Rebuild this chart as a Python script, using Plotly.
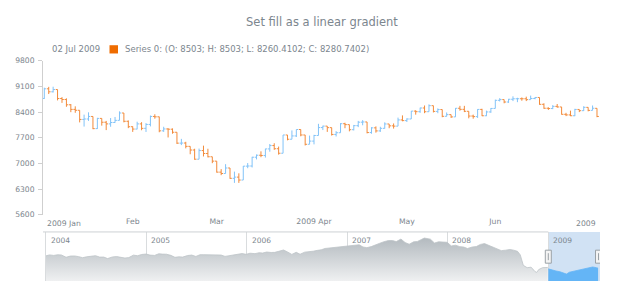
import plotly.graph_objects as go

# ---------------- data ----------------
TRADING_DAYS = [
    "2 5 6 7 8 9 12 13 14 15 16 20 21 22 23 26 27 28 29 30",
    "2 3 4 5 6 9 10 11 12 13 17 18 19 20 23 24 25 26 27",
    "2 3 4 5 6 9 10 11 12 13 16 17 18 19 20 23 24 25 26 27 30 31",
    "1 2 3 6 7 8 9 13 14 15 16 17 20 21 22 23 24 27 28 29 30",
    "1 4 5 6 7 8 11 12 13 14 15 18 19 20 21 22 26 27 28 29",
    "1 2 3 4 5 8 9 10 11 12 15 16 17 18 19 22 23 24 25 26 29 30",
    "1 2",
]
DATES = [f"2009-{m:02d}-{int(d):02d}" for m, s in enumerate(TRADING_DAYS, start=1) for d in s.split()]
DATE_LABEL = "02 Jul 2009"

OPEN = [
    8772, 9035, 8953, 9015, 8770, 8742, 8599, 8474, 8449, 8200, 8212, 8281, 7949, 8228, 8123, 8078, 8116, 8175, 8375, 8149,
    8001, 7937, 8078, 7957, 8063, 8281, 8271, 7889, 7940, 7933, 7850, 7553, 7556, 7466, 7366, 7115, 7351, 7271, 7182,
    7063, 6763, 6726, 6876, 6594, 6627, 6547, 6926, 6930, 7170, 7224, 7217, 7396, 7487, 7401, 7278, 7776, 7660, 7750, 7925, 7776, 7522,
    7609, 7762, 7978, 8018, 7976, 7790, 7837, 8083, 8058, 7920, 8030, 8125, 8131, 7842, 7970, 7887, 7957, 8076, 8025, 8017, 8186,
    8168, 8212, 8427, 8411, 8512, 8410, 8575, 8419, 8469, 8285, 8331, 8269, 8504, 8475, 8422, 8292, 8277, 8473, 8300, 8404,
    8500, 8721, 8741, 8675, 8750, 8763, 8764, 8763, 8739, 8771, 8799, 8612, 8505, 8497, 8556, 8540, 8339, 8323, 8300, 8472, 8438, 8529,
    8447, 8503,
]
HIGH = [
    9065, 9088, 9092, 9015, 8808, 8775, 8618, 8557, 8449, 8331, 8394, 8281, 8243, 8228, 8160, 8238, 8267, 8420, 8375, 8172,
    8010, 8138, 8125, 8099, 8307, 8340, 8275, 8000, 7960, 7955, 7850, 7670, 7590, 7466, 7400, 7405, 7485, 7400, 7182,
    7063, 6845, 6980, 6876, 6777, 6730, 6930, 7010, 7180, 7245, 7330, 7400, 7530, 7550, 7460, 7776, 7776, 7900, 7925, 7925, 7776, 7760,
    7780, 8080, 8030, 8018, 7976, 7880, 8100, 8110, 8058, 8050, 8160, 8180, 8131, 7990, 8010, 8000, 8120, 8076, 8090, 8250, 8310,
    8230, 8430, 8450, 8520, 8580, 8610, 8575, 8500, 8469, 8390, 8331, 8510, 8570, 8570, 8422, 8330, 8480, 8490, 8440, 8510,
    8740, 8780, 8741, 8760, 8830, 8790, 8800, 8820, 8850, 8810, 8799, 8640, 8530, 8590, 8620, 8540, 8380, 8440, 8490, 8472, 8560, 8530,
    8580, 8503,
]
LOW = [
    8760, 8892, 8934, 8719, 8651, 8544, 8398, 8381, 8119, 8005, 8160, 7934, 7940, 8030, 7909, 8000, 8110, 8175, 8120, 7962,
    7860, 7932, 7905, 7858, 8010, 8220, 7850, 7860, 7708, 7810, 7532, 7500, 7411, 7250, 7100, 7115, 7190, 7165, 7007,
    6750, 6680, 6726, 6580, 6470, 6470, 6547, 6870, 6890, 7110, 7170, 7160, 7320, 7370, 7240, 7278, 7630, 7660, 7720, 7740, 7490, 7522,
    7520, 7762, 7910, 7860, 7760, 7735, 7837, 7960, 7875, 7900, 7990, 8040, 7820, 7810, 7840, 7860, 7950, 7960, 7950, 8017, 8150,
    8130, 8212, 8330, 8380, 8370, 8410, 8390, 8370, 8260, 8280, 8240, 8269, 8440, 8400, 8230, 8220, 8240, 8290, 8290, 8380,
    8500, 8690, 8640, 8650, 8700, 8670, 8710, 8700, 8740, 8750, 8600, 8490, 8460, 8480, 8520, 8330, 8290, 8290, 8290, 8400, 8430, 8420,
    8447, 8260.4102,
]
CLOSE = [
    9035, 8953, 9015, 8770, 8742, 8599, 8474, 8449, 8200, 8212, 8281, 7949, 8228, 8123, 8078, 8116, 8175, 8375, 8149, 8001,
    7937, 8078, 7957, 8063, 8281, 8271, 7889, 7940, 7933, 7850, 7553, 7556, 7466, 7366, 7115, 7351, 7271, 7182, 7063,
    6763, 6726, 6876, 6594, 6627, 6547, 6926, 6930, 7170, 7224, 7217, 7396, 7487, 7401, 7278, 7776, 7660, 7750, 7925, 7776, 7522, 7609,
    7762, 7978, 8018, 7976, 7790, 7837, 8083, 8058, 7920, 8030, 8125, 8131, 7842, 7970, 7887, 7957, 8076, 8025, 8017, 8186, 8168,
    8212, 8427, 8411, 8512, 8410, 8575, 8419, 8469, 8285, 8331, 8269, 8504, 8475, 8422, 8292, 8277, 8473, 8300, 8404, 8500,
    8721, 8741, 8675, 8750, 8763, 8764, 8763, 8739, 8771, 8799, 8612, 8505, 8497, 8556, 8540, 8339, 8323, 8300, 8472, 8438, 8529, 8447,
    8504, 8280.7402,
]

MONTH_TICK_LABELS = ["2009 Jan", "Feb", "Mar", "2009 Apr", "May", "Jun", "2009"]
Y_TICKS = [5600, 6300, 7000, 7700, 8400, 9100, 9800]

# scroller history (2004 - 2008)
HIST_DATES = [
    "2004-01-02", "2004-01-15", "2004-01-30", "2004-02-13", "2004-02-27", "2004-03-15", "2004-03-31", "2004-04-15", "2004-04-30",
    "2004-05-14", "2004-05-28", "2004-06-15", "2004-06-30", "2004-07-15", "2004-07-30", "2004-08-13", "2004-08-31", "2004-09-15",
    "2004-09-30", "2004-10-15", "2004-10-29", "2004-11-15", "2004-11-30", "2004-12-15", "2004-12-31",
    "2005-01-14", "2005-01-31", "2005-02-15", "2005-02-28", "2005-03-15", "2005-03-31", "2005-04-15", "2005-04-29", "2005-05-13",
    "2005-05-31", "2005-06-15", "2005-06-30", "2005-07-15", "2005-07-29", "2005-08-15", "2005-08-31", "2005-09-15", "2005-09-30",
    "2005-10-14", "2005-10-31", "2005-11-15", "2005-11-30", "2005-12-15", "2005-12-30",
    "2006-01-13", "2006-01-31", "2006-02-15", "2006-02-28", "2006-03-15", "2006-03-31", "2006-04-13", "2006-04-28", "2006-05-15",
    "2006-05-31", "2006-06-14", "2006-06-30", "2006-07-14", "2006-07-31", "2006-08-15", "2006-08-31", "2006-09-15", "2006-09-29",
    "2006-10-13", "2006-10-31", "2006-11-15", "2006-11-30", "2006-12-15", "2006-12-29",
    "2007-01-12", "2007-01-31", "2007-02-14", "2007-02-28", "2007-03-14", "2007-03-30", "2007-04-13", "2007-04-30", "2007-05-15",
    "2007-05-31", "2007-06-15", "2007-06-29", "2007-07-16", "2007-07-31", "2007-08-15", "2007-08-31", "2007-09-14", "2007-09-28",
    "2007-10-09", "2007-10-31", "2007-11-15", "2007-11-30", "2007-12-14", "2007-12-31",
    "2008-01-15", "2008-01-31", "2008-02-15", "2008-02-29", "2008-03-14", "2008-03-31", "2008-04-15", "2008-04-30", "2008-05-15",
    "2008-05-30", "2008-06-13", "2008-06-30", "2008-07-15", "2008-07-31", "2008-08-15", "2008-08-29", "2008-09-12", "2008-09-22",
    "2008-10-03", "2008-10-17", "2008-10-31", "2008-11-07", "2008-11-14", "2008-11-21", "2008-11-28", "2008-12-12", "2008-12-31",
]
HIST_VALUES = [
    10409, 10600, 10488, 10628, 10584, 10102, 10358, 10378, 10226,
    10012, 10188, 10380, 10435, 10140, 10140, 9825, 10174, 10245,
    10080, 9933, 10027, 10550, 10428, 10690, 10783,
    10558, 10490, 10837, 10766, 10745, 10504, 10088, 10193, 10140,
    10467, 10566, 10275, 10640, 10641, 10634, 10482, 10558, 10569,
    10287, 10440, 10686, 10806, 10881, 10718,
    10959, 10865, 11058, 10993, 11209, 11109, 11137, 11367, 11642,
    11168, 10706, 11150, 10739, 11186, 11230, 11381, 11560, 11679,
    11960, 12081, 12251, 12221, 12445, 12463,
    12556, 12622, 12741, 12269, 12133, 12354, 12612, 13063, 13383,
    13628, 13639, 13409, 13950, 13212, 12861, 13358, 13442, 13896,
    14164, 13930, 13110, 13372, 13339, 13265,
    12501, 12650, 12348, 12266, 11951, 12263, 12362, 12820, 12992,
    12638, 12308, 11750, 11500, 11600, 11750, 11600, 11350, 10600,
    8400, 7900, 8000, 7600, 7100, 6900, 7500, 7900, 7950,
]
# navigator values for the selected range (2009)
SCROLL_DATES = [
    "2009-01-02", "2009-01-16", "2009-01-30", "2009-02-13", "2009-02-27", "2009-03-09", "2009-03-20", "2009-04-03",
    "2009-04-17", "2009-05-01", "2009-05-15", "2009-05-29", "2009-06-12", "2009-06-26", "2009-07-02",
]
SCROLL_VALUES = [7650, 7350, 7200, 7050, 6750, 6550, 6950, 7150, 7400, 7550, 7700, 7850, 8050, 7900, 7800]
YEAR_LABELS = ["2004", "2005", "2006", "2007", "2008", "2009"]

# ---------------- styling ----------------
FONT = "DejaVu Sans"
TXT = "#7c868e"
RISE = "#64b5f6"
FALL = "#ef6c00"
RISE_BAR = "#82c3f8"
FALL_BAR = "#f28a3a"
W, H = 620, 300
ML, MR = 43, 20
PW = W - ML - MR


def py(pix):
    """convert a pixel row (from top) to paper y"""
    return (H - pix) / H


def px(pix):
    return (pix - ML) / PW


idx = list(range(len(DATES)))
month_starts = [i for i, d in enumerate(DATES) if i == 0 or d[5:7] != DATES[i - 1][5:7]]

fig = go.Figure()

fig.add_trace(go.Ohlc(
    x=idx, open=OPEN, high=HIGH, low=LOW, close=CLOSE,
    xaxis="x", yaxis="y",
    increasing=dict(line=dict(color=RISE_BAR, width=1)),
    decreasing=dict(line=dict(color=FALL_BAR, width=1)),
    tickwidth=0.42, showlegend=False, hoverinfo="skip",
))

fig.add_trace(go.Scatter(
    x=HIST_DATES, y=HIST_VALUES, xaxis="x2", yaxis="y2", mode="lines",
    line=dict(color="#bec4c8", width=0.8),
    fill="tozeroy",
    fillgradient=dict(type="vertical", colorscale=[[0, "#f1f2f3"], [1, "#b3babf"]], start=5100, stop=14200),
    showlegend=False, hoverinfo="skip",
))
fig.add_trace(go.Scatter(
    x=SCROLL_DATES, y=SCROLL_VALUES, xaxis="x2", yaxis="y2", mode="lines",
    line=dict(color=RISE, width=0.8), fill="tozeroy", fillcolor=RISE,
    showlegend=False, hoverinfo="skip",
))

shapes = [
    # selection background in the scroller
    dict(type="rect", xref="x2", yref="y2 domain", x0=DATES[0], x1="2009-07-09", y0=0, y1=1,
         fillcolor="#d1e2f4", line=dict(width=0), layer="below"),
    # scroller top border (outside the selection)
    dict(type="line", xref="x2", yref="y2 domain", x0="2003-12-22", x1=DATES[0], y0=1, y1=1,
         line=dict(color="#cdd1d4", width=1)),
    # legend colour box
    dict(type="rect", xref="paper", yref="paper", x0=px(109.5), x1=px(118), y0=py(51), y1=py(42.5),
         fillcolor=FALL, line=dict(width=0)),
]
for d, off in ((DATES[0], 0), ("2009-07-09", -1.5)):
    shapes.append(dict(type="rect", xref="x2", yref="y2 domain", xsizemode="pixel", xanchor=d,
                       x0=off - 3, x1=off + 3, ysizemode="pixel", yanchor=0.495, y0=-6.5, y1=6.5,
                       fillcolor="#f4f4f4", line=dict(color="#9ba2a7", width=1)))
    shapes.append(dict(type="line", xref="x2", yref="y2 domain", xsizemode="pixel", xanchor=d,
                       x0=off, x1=off, ysizemode="pixel", yanchor=0.495, y0=-3.5, y1=3.5,
                       line=dict(color="#9ba2a7", width=1)))

annotations = [
    dict(text="Set fill as a linear gradient", xref="paper", yref="paper", x=px(321.5), y=py(19),
         xanchor="center", yanchor="middle", showarrow=False, font=dict(family=FONT, size=11.5, color=TXT)),
    dict(text=DATE_LABEL, xref="paper", yref="paper", x=px(50), y=py(46.5),
         xanchor="left", yanchor="middle", showarrow=False, font=dict(family=FONT, size=8.5, color=TXT)),
    dict(text=f"Series 0: (O: {OPEN[-1]}; H: {HIGH[-1]}; L: {LOW[-1]}; C: {CLOSE[-1]})",
         xref="paper", yref="paper", x=px(123), y=py(46.5),
         xanchor="left", yanchor="middle", showarrow=False, font=dict(family=FONT, size=8.5, color=TXT)),
    dict(text=MONTH_TICK_LABELS[0], xref="x", yref="paper", x=idx[0], y=py(226), xshift=1,
         xanchor="left", yanchor="middle", showarrow=False, font=dict(family=FONT, size=7.7, color=TXT)),
    dict(text=MONTH_TICK_LABELS[-1], xref="x", yref="paper", x=month_starts[-1], y=py(226), xshift=5,
         xanchor="right", yanchor="middle", showarrow=False, font=dict(family=FONT, size=7.7, color=TXT)),
]
for yl in YEAR_LABELS:
    annotations.append(dict(text=yl, xref="x2", yref="paper", x=f"{yl}-01-01", y=py(244), xshift=3,
                            xanchor="left", yanchor="middle", showarrow=False,
                            font=dict(family=FONT, size=7.5, color=TXT)))

fig.update_layout(
    width=W, height=H,
    margin=dict(l=ML, r=MR, t=0, b=0),
    paper_bgcolor="white", plot_bgcolor="white",
    showlegend=False,
    font=dict(family=FONT, color=TXT),
    xaxis=dict(
        domain=[0, 1], anchor="y", range=[-0.294, len(idx) - 1 + 0.68],
        rangeslider=dict(visible=False),
        tickmode="array", tickvals=month_starts[1:-1], ticktext=MONTH_TICK_LABELS[1:-1],
        ticks="", showgrid=False, zeroline=False, showline=False, ticklabelstandoff=1,
        tickfont=dict(family=FONT, size=7.7, color=TXT),
    ),
    yaxis=dict(
        domain=[py(217.3), py(58.5)], anchor="x", range=[Y_TICKS[0], Y_TICKS[-1]],
        tickmode="array", tickvals=Y_TICKS, tickformat="d",
        ticks="outside", ticklen=4, tickcolor="#cfcfcf", ticklabelstandoff=2,
        showline=True, linecolor="#cfcfcf", linewidth=1,
        showgrid=False, zeroline=False,
        tickfont=dict(family=FONT, size=7.6, color=TXT),
    ),
    xaxis2=dict(
        domain=[0, 1], anchor="y2", side="top", type="date",
        range=["2003-12-22", "2009-07-09"],
        showline=False,
        showgrid=True, gridcolor="#d9dcde", gridwidth=1, tick0="2004-01-01", dtick="M12",
        showticklabels=False, ticks="", zeroline=False,
    ),
    yaxis2=dict(
        domain=[py(285.5), py(235)], anchor="x2", range=[5100, 15450],
        showticklabels=False, showgrid=False, zeroline=False, showline=False, ticks="",
    ),
    shapes=shapes,
    annotations=annotations,
)

fig.write_html("out.html")
